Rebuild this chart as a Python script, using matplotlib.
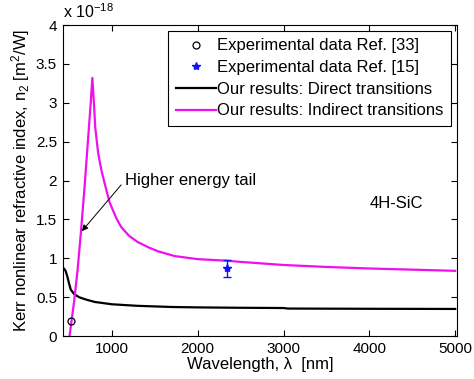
import matplotlib
matplotlib.use("Agg")
import matplotlib.pyplot as plt
from matplotlib.lines import Line2D
from matplotlib.ticker import FormatStrFormatter, MultipleLocator

plt.rcParams.update({
    "font.family": ["Liberation Sans", "DejaVu Sans"],
    "font.size": 12,
    "mathtext.fontset": "custom",
    "mathtext.rm": "Liberation Sans",
    "mathtext.it": "Liberation Sans:italic",
})

# ---- data (n2 in units of 1e-18 m^2/W, wavelength in nm) ----
direct_wl = [425, 440, 460, 480, 500, 520, 560, 620, 700, 800, 1000, 1300,
             1700, 2000, 2500, 3000, 3050, 4000, 5000]
direct_n2 = [0.88, 0.87, 0.84, 0.77, 0.68, 0.60, 0.54, 0.50, 0.47, 0.44, 0.41,
             0.39, 0.375, 0.37, 0.365, 0.362, 0.355, 0.352, 0.35]

indirect_wl = [506, 560, 600, 640, 680, 720, 750, 772, 790, 806, 840, 880, 914,
               973, 1050, 1110, 1200, 1300, 1430, 1540, 1730, 2000, 2340, 2500,
               3000, 3500, 4000, 4500, 5000]
indirect_n2 = [0.0, 0.45, 0.85, 1.35, 1.90, 2.50, 2.95, 3.32, 3.00, 2.68, 2.35,
               2.12, 1.97, 1.72, 1.52, 1.40, 1.29, 1.21, 1.14, 1.09, 1.03, 0.99,
               0.97, 0.955, 0.915, 0.89, 0.87, 0.855, 0.84]

exp33_wl = [528]
exp33_n2 = [0.2]

exp15_wl = [2345]
exp15_n2 = [0.87]
exp15_err = [0.105]

BLUE = "#1010ff"
MAGENTA = "#ee10ee"
FS = 12

fig = plt.figure(figsize=(4.74, 3.79), dpi=100)
ax = fig.add_axes([0.132, 0.113, 0.832, 0.821])

ax.plot(exp33_wl, exp33_n2, "o", mfc="none", mec="black", ms=5, mew=0.9,
        ls="none", zorder=4)
ax.errorbar(exp15_wl, exp15_n2, yerr=exp15_err, fmt="*", color=BLUE,
            ms=6, capsize=3, elinewidth=1, capthick=1, zorder=4)
ax.plot(direct_wl, direct_n2, color="black", lw=1.6)
ax.plot(indirect_wl, indirect_n2, color=MAGENTA, lw=1.6)

ax.set_xlim(425, 5020)
ax.set_ylim(0, 4)
ax.xaxis.set_major_locator(MultipleLocator(1000))
ax.yaxis.set_major_locator(MultipleLocator(0.5))
ax.yaxis.set_major_formatter(FormatStrFormatter("%g"))
ax.tick_params(direction="in", top=True, right=True, length=4, width=0.8,
               labelsize=11, pad=4)
for sp in ax.spines.values():
    sp.set_linewidth(0.8)

ax.set_xlabel("Wavelength, λ  [nm]", fontsize=FS, labelpad=1)
ax.set_ylabel(r"Kerr nonlinear refractive index, n$_2$ [m$^2$/W]",
              fontsize=FS, labelpad=3)
ax.text(0.0, 1.012, r"x 10$^{-18}$", transform=ax.transAxes,
        ha="left", va="bottom", fontsize=11.5)

ax.annotate("Higher energy tail", xy=(650, 1.35), xytext=(1150, 2.0),
            ha="left", va="center", fontsize=FS,
            arrowprops=dict(arrowstyle="-|>", color="black", lw=0.7,
                            relpos=(0, 0.5), shrinkA=1, shrinkB=0,
                            mutation_scale=9))
ax.text(4318, 1.71, "4H-SiC", ha="center", va="center", fontsize=FS)

handles = [
    Line2D([], [], ls="none", marker="o", mfc="none", mec="black", ms=5, mew=0.9),
    Line2D([], [], ls="none", marker="*", color=BLUE, ms=6),
    Line2D([], [], color="black", lw=1.6),
    Line2D([], [], color=MAGENTA, lw=1.6),
]
labels = ["Experimental data Ref. [33]", "Experimental data Ref. [15]",
          "Our results: Direct transitions", "Our results: Indirect transitions"]
leg = ax.legend(handles, labels, loc="upper right", fontsize=FS,
                labelspacing=0.4, handlelength=2.4, handletextpad=0.1,
                borderpad=0.45, borderaxespad=0.35, fancybox=False,
                framealpha=1, edgecolor="black")
leg.get_frame().set_linewidth(0.8)

fig.savefig("out.png", dpi=100, facecolor="white")
